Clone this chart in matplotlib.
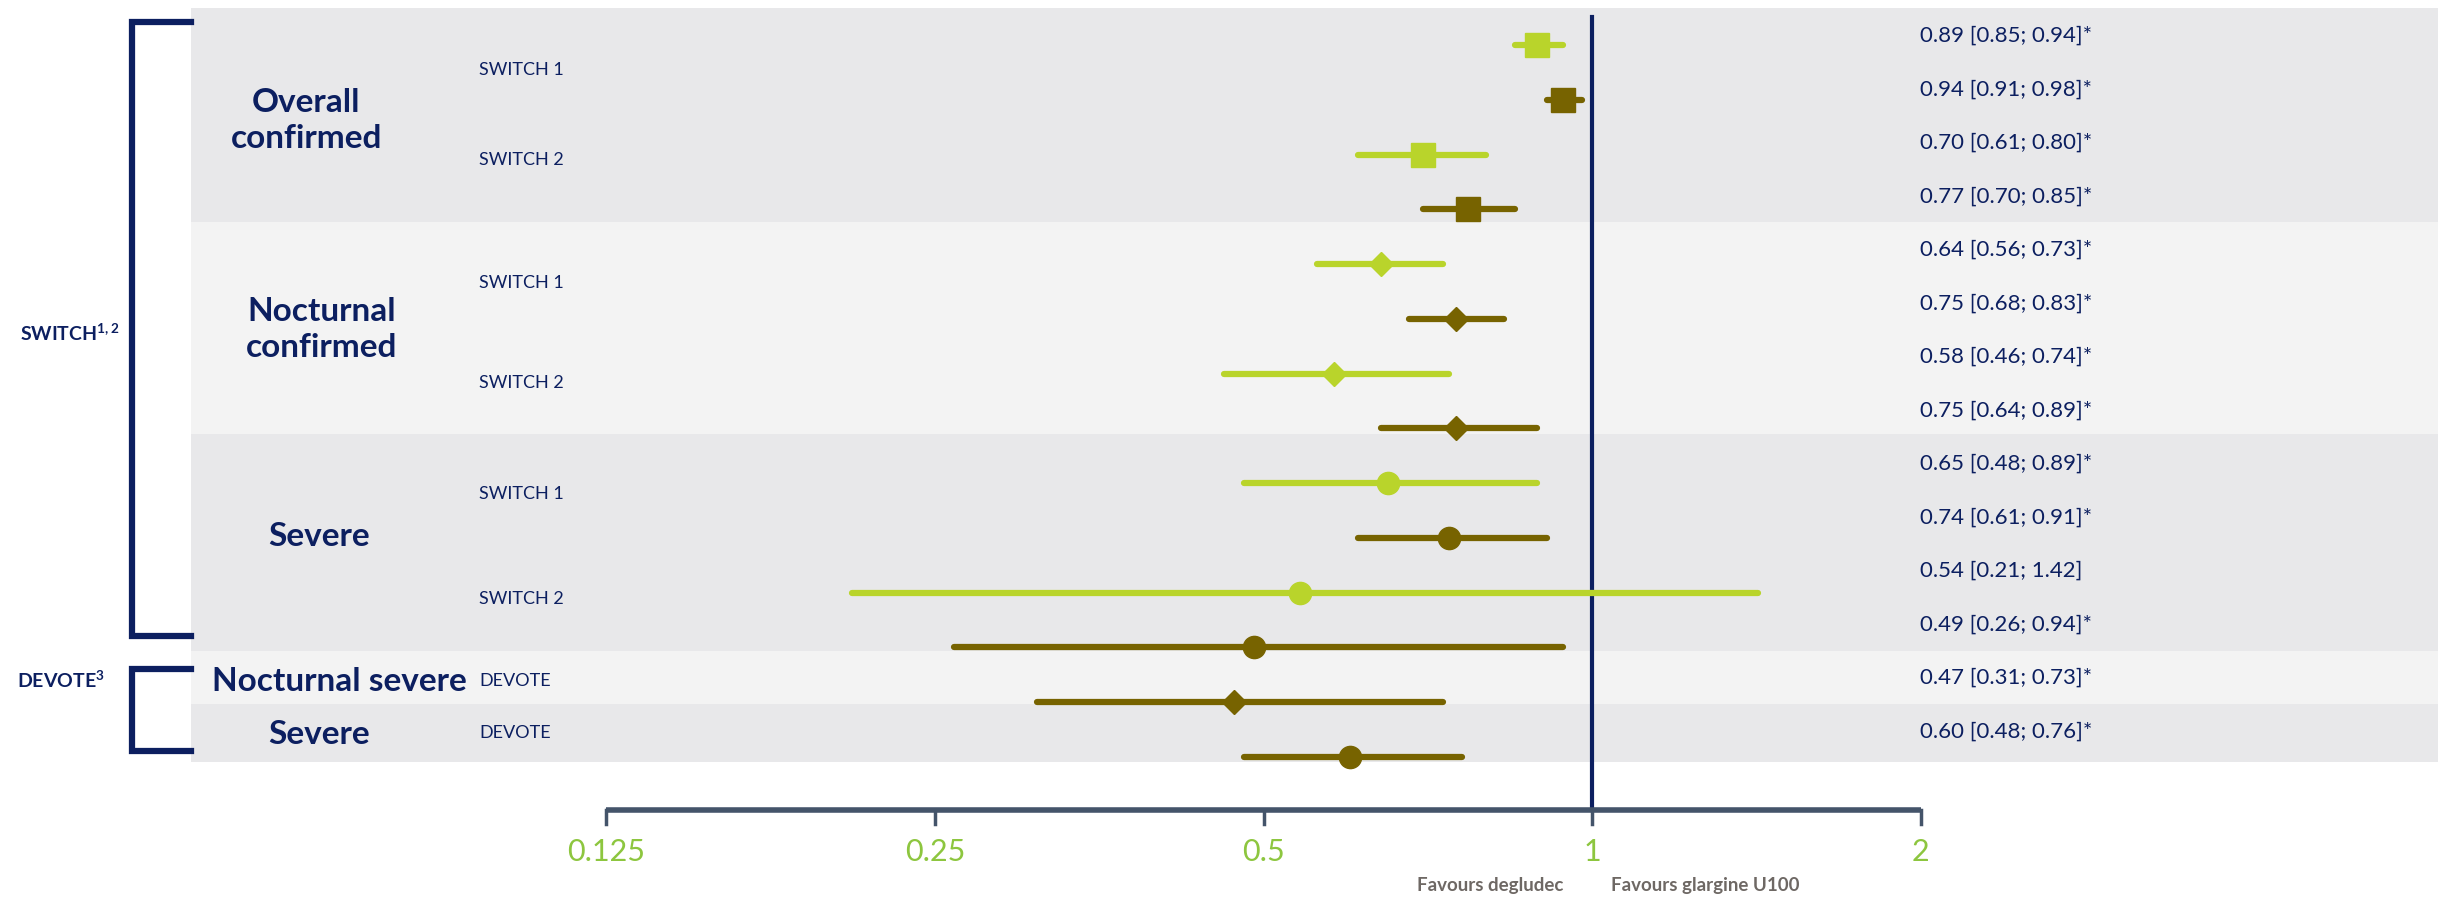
import numpy as np
import matplotlib.pyplot as plt
from matplotlib.lines import Line2D

plt.rcParams['font.family'] = ['Lato', 'DejaVu Sans']
plt.rcParams['mathtext.fontset'] = 'custom'
plt.rcParams['mathtext.rm'] = 'Lato'
plt.rcParams['mathtext.bf'] = 'Lato:bold'

# data: hazard ratio and 95% CI, top to bottom
hr = [0.89, 0.94, 0.70, 0.77, 0.64, 0.75, 0.58, 0.75, 0.65, 0.74, 0.54, 0.49, 0.47, 0.60]
lo = [0.85, 0.91, 0.61, 0.70, 0.56, 0.68, 0.46, 0.64, 0.48, 0.61, 0.21, 0.26, 0.31, 0.48]
hi = [0.94, 0.98, 0.80, 0.85, 0.73, 0.83, 0.74, 0.89, 0.89, 0.91, 1.42, 0.94, 0.73, 0.76]
signif = [True] * 10 + [False] + [True] * 3
# light = first phase, dark = second phase
phase = ['light', 'dark'] * 6 + ['dark', 'dark']
marker = ['s'] * 4 + ['D'] * 4 + ['o'] * 4 + ['D', 'o']

groups = ['Overall\nconfirmed', 'Nocturnal\nconfirmed', 'Severe', 'Nocturnal severe', 'Severe']
group_y = [1.37, 5.2, 8.97, 11.62, 12.59]
group_x = [0.1256, 0.132, 0.131, 0.139, 0.131]
band_edges = [-0.68, 3.23, 7.11, 11.07, 12.04, 13.10]

trials = ['SWITCH 1', 'SWITCH 2', 'SWITCH 1', 'SWITCH 2', 'SWITCH 1', 'SWITCH 2', 'DEVOTE', 'DEVOTE']
trial_y = [0.455, 2.1, 4.35, 6.17, 8.2, 10.11, 11.62, 12.56]

ticks = [0.125, 0.25, 0.5, 1, 2]
tick_labels = ['0.125', '0.25', '0.5', '1', '2']

NAVY = '#0c1f60'
LIGHT = '#b9d42b'
DARK = '#776300'
colors = {'light': LIGHT, 'dark': DARK}
msize = {'s': 17, 'D': 12, 'o': 16}

fig = plt.figure(figsize=(24.38, 8.98), dpi=100)
ax = fig.add_axes([0, 0, 1, 1])
ax.set_xscale('log', base=2)
ax.set_xlim(2 ** -4.846, 2 ** 2.575)
ax.set_ylim(15.58, -0.824)
ax.axis('off')
tr = ax.get_yaxis_transform()

# background bands
for k in range(len(band_edges) - 1):
    c = '#e8e8ea' if k % 2 == 0 else '#f3f3f3'
    ax.axhspan(band_edges[k], band_edges[k + 1], xmin=0.0783, xmax=1, color=c, lw=0, zorder=0)

# reference line at 1
ax.plot([1, 1], [-0.51, 13.976], color=NAVY, lw=3, zorder=2)

# CI lines + markers + value text
for i in range(len(hr)):
    c = colors[phase[i]]
    ax.plot([lo[i], hi[i]], [i, i], color=c, lw=4.5, solid_capstyle='round', zorder=3)
    ax.plot(hr[i], i, marker=marker[i], color=c, ms=msize[marker[i]], mec=c, zorder=4)
    txt = f"{hr[i]:.2f} [{lo[i]:.2f}; {hi[i]:.2f}]" + ('*' if signif[i] else '')
    ax.text(0.7875, i * 0.9775 - 0.17, txt, transform=tr,
            ha='left', va='center', fontsize=16, color=NAVY)

for g, gx, gy in zip(groups, group_x, group_y):
    ax.text(gx, gy, g, transform=tr, ha='center', va='center', fontsize=24,
            fontweight='bold', color=NAVY, linespacing=1.3)
for t, ty in zip(trials, trial_y):
    ax.text(0.1965, ty, t, transform=tr, ha='left', va='center', fontsize=13, color=NAVY)

# brackets
for top, bot in [(-0.42, 10.8), (11.4, 12.9)]:
    ax.add_line(Line2D([0.0783, 0.0541, 0.0541, 0.0783], [top, top, bot, bot], transform=tr,
                       color=NAVY, lw=4.5, solid_joinstyle='miter'))
ax.text(0.0287, 5.26, r'SWITCH$^{\mathbf{1,2}}$', transform=tr, ha='center', va='center',
        fontsize=14, fontweight='bold', color=NAVY)
ax.text(0.025, 11.6, r'DEVOTE$^{\mathbf{3}}$', transform=tr, ha='center', va='center',
        fontsize=14, fontweight='bold', color=NAVY)

# x axis
y_axis = 13.976
ax.plot([ticks[0], ticks[-1]], [y_axis, y_axis], color='#44546a', lw=4, solid_capstyle='butt', zorder=2)
for t, lab in zip(ticks, tick_labels):
    ax.plot([t, t], [y_axis, 14.23], color='#44546a', lw=2.5, zorder=2)
    ax.text(t, 14.74, lab, ha='center', va='center', fontsize=22, color='#8dc63f')

ax.text(0.9406, 15.36, 'Favours degludec', ha='right', va='center', fontsize=13.5,
        fontweight='bold', color='#6e6864')
ax.text(1.041, 15.36, 'Favours glargine U100', ha='left', va='center', fontsize=13.5,
        fontweight='bold', color='#6e6864')

fig.savefig('out.png', dpi=100)
